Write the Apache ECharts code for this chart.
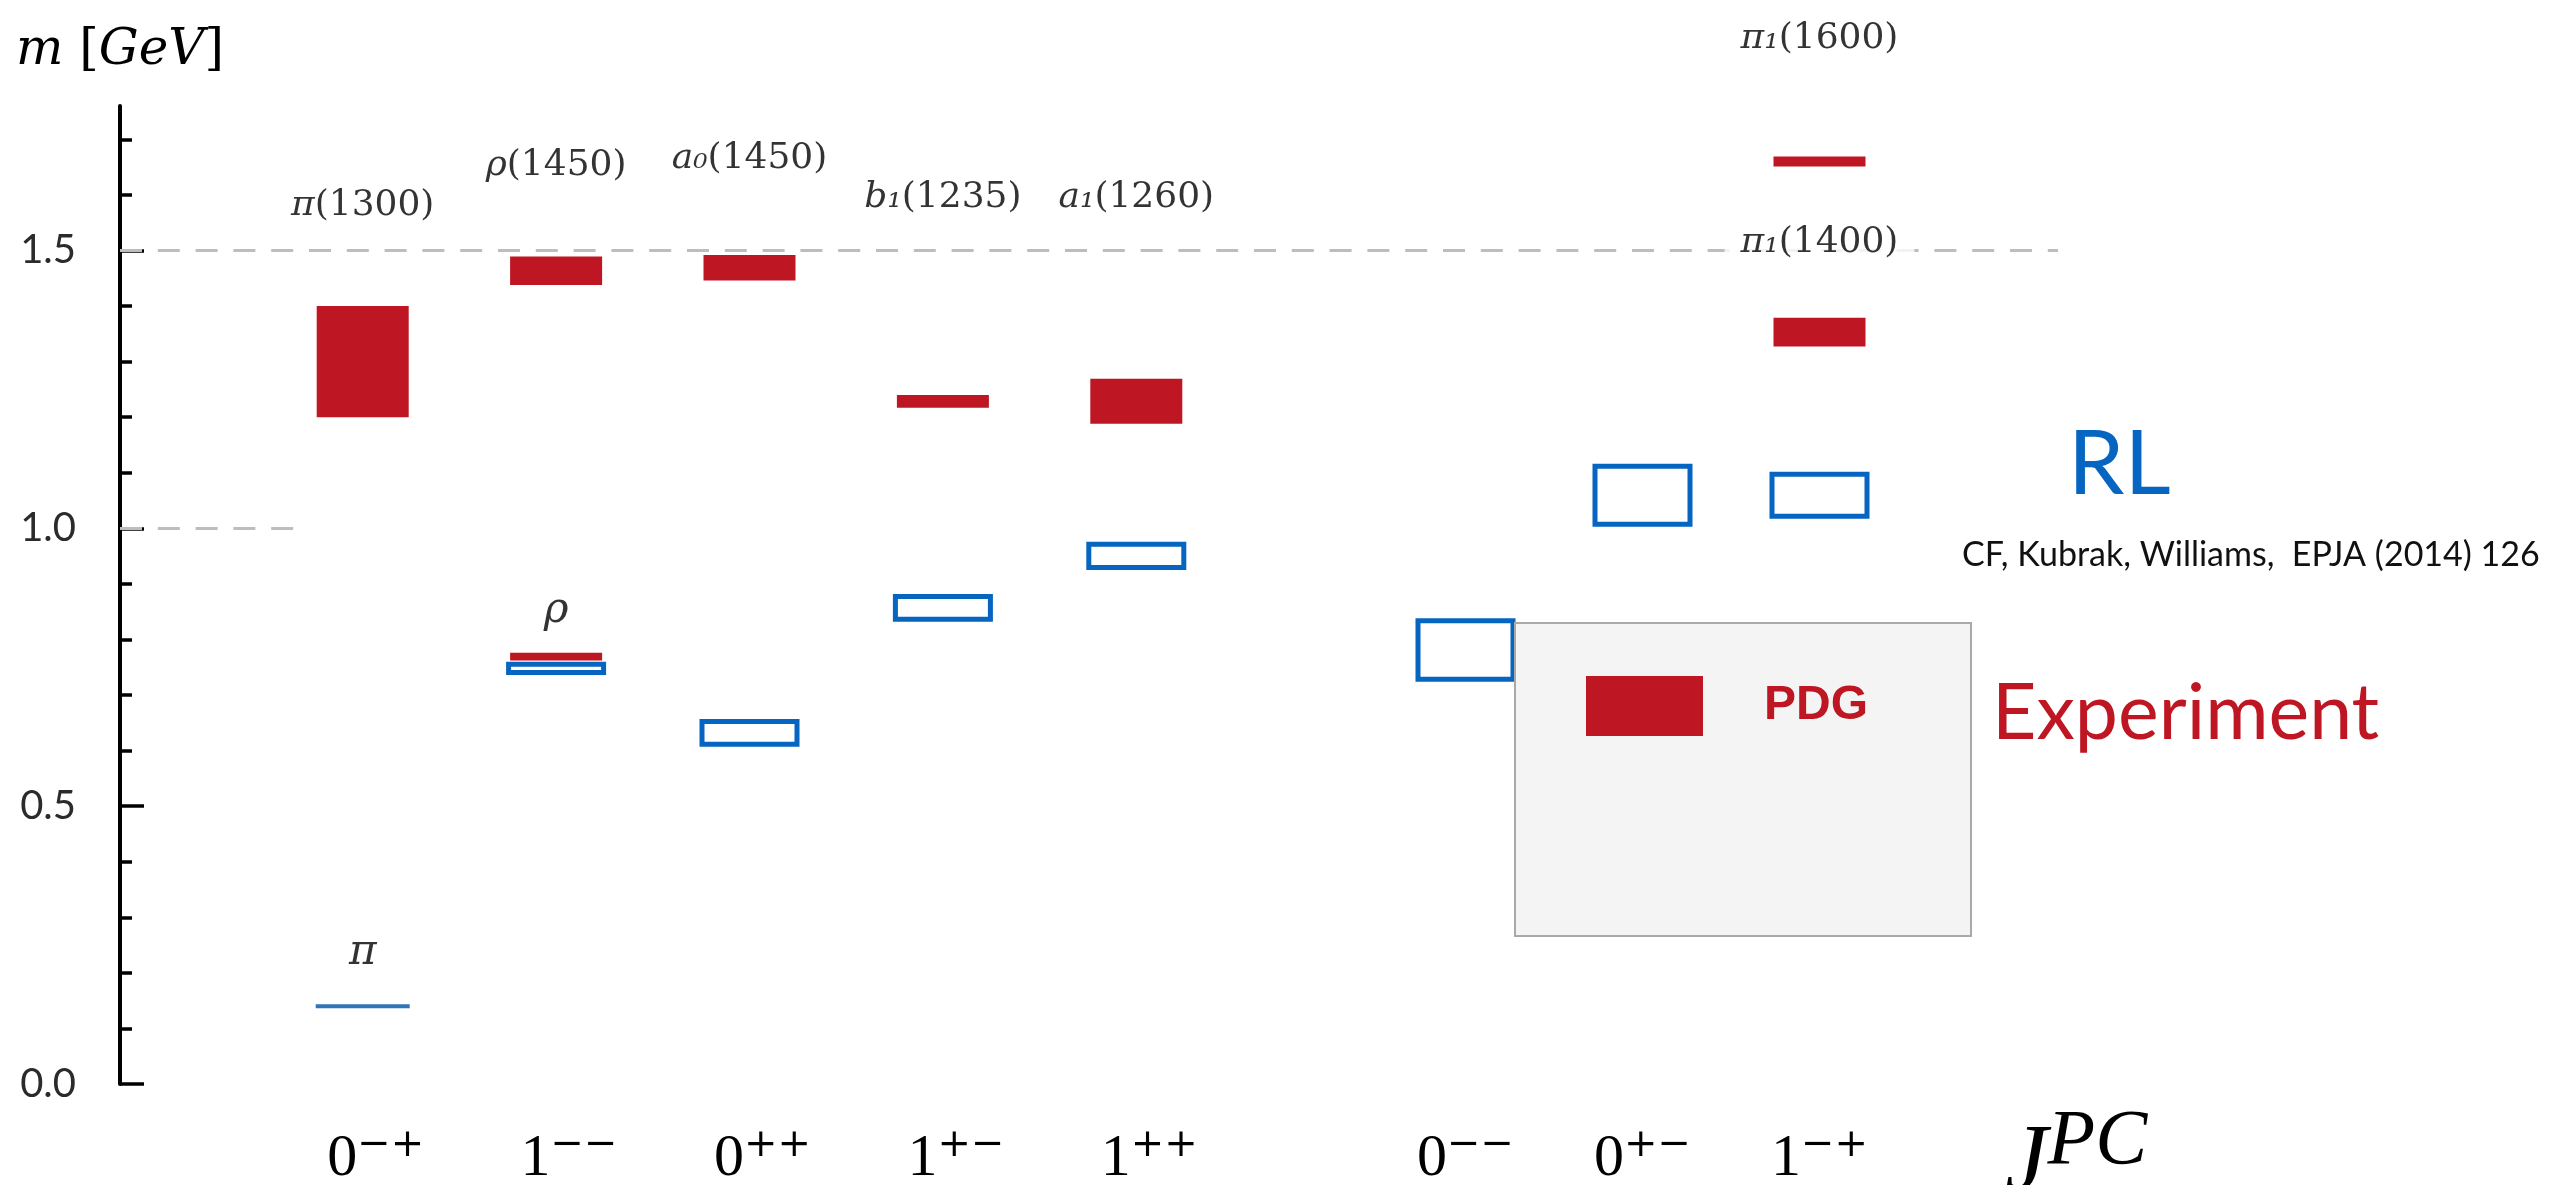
<!DOCTYPE html>
<html>
<head>
<meta charset="utf-8">
<title>Light meson spectrum: RL vs PDG</title>
<script src="https://cdn.jsdelivr.net/npm/echarts@6/dist/echarts.min.js"></script>
<style>
  html, body { margin: 0; padding: 0; background: #fff; }
  #chart { width: 2550px; height: 1185px; }
</style>
</head>
<body>
<div id="chart"></div>
<script>
// J^PC channels: conventional ones on the left, the others on the right
var stdStates = ['0-+', '1--', '0++', '1+-', '1++'];
var exoStates = ['0--', '0+-', '1-+'];

// rainbow-ladder (RL) masses in GeV: [state, low, high]
var rlStd = [['0-+', 0.14, 0.14], ['1--', 0.736, 0.760], ['0++', 0.607, 0.657], ['1+-', 0.832, 0.882], ['1++', 0.925, 0.976]];
var rlExo = [['0--', 0.724, 0.838], ['0+-', 1.003, 1.116], ['1-+', 1.017, 1.102]];

// PDG masses in GeV: [state, low, high]
var pdgStd = [['0-+', 1.20, 1.40], ['1--', 0.762, 0.776], ['1--', 1.438, 1.489], ['0++', 1.446, 1.492], ['1+-', 1.217, 1.240], ['1++', 1.188, 1.269]];
var pdgExo = [['1-+', 1.327, 1.379], ['1-+', 1.651, 1.669]];

// state names: [state, level of the name in GeV, particle, PDG mass]
var namesStd = [['0-+', 1.564, 'π', '1300'], ['1--', 1.636, 'ρ', '1450'], ['0++', 1.649, 'a₀', '1450'],
                ['1+-', 1.579, 'b₁', '1235'], ['1++', 1.579, 'a₁', '1260'],
                ['0-+', 0.214, 'π', ''], ['1--', 0.830, 'ρ', '']];
var namesExo = [['1-+', 1.865, 'π₁', '1600'], ['1-+', 1.498, 'π₁', '1400']];

var majorTicks = [0, 0.5, 1.0, 1.5];
var minorTicks = [0.1, 0.2, 0.3, 0.4, 0.6, 0.7, 0.8, 0.9, 1.1, 1.2, 1.3, 1.4, 1.6, 1.7];

var RED = '#be1622', BLUE = '#0565c1', PI_BLUE = '#2f75b7';
var MMAX = 1.76;

function rlBox(params, api) {
    var x = api.coord([api.value(0), 0])[0];
    var yLo = api.coord([api.value(0), api.value(1)])[1];
    var yHi = api.coord([api.value(0), api.value(2)])[1];
    if (yLo - yHi < 1) {
        // sharp level (the pion): just a line
        return { type: 'line', shape: { x1: x - 47, y1: yLo, x2: x + 47, y2: yLo },
                 style: { stroke: PI_BLUE, lineWidth: 4 } };
    }
    var w = 100, lw = 5;
    return { type: 'rect', shape: { x: x - w / 2 + lw / 2, y: yHi + lw / 2, width: w - lw, height: yLo - yHi - lw },
             style: { fill: 'none', stroke: BLUE, lineWidth: lw } };
}

function pdgBox(params, api) {
    var x = api.coord([api.value(0), 0])[0];
    var yLo = api.coord([api.value(0), api.value(1)])[1];
    var yHi = api.coord([api.value(0), api.value(2)])[1];
    return { type: 'rect', shape: { x: x - 46, y: yHi, width: 92, height: yLo - yHi },
             style: { fill: RED } };
}

function jpc(s) {
    return '{j|' + s.charAt(0) + '}{pc|' + s.slice(1).replace(/-/g, '\u2212') + '}';
}

var jpcRich = {
    j: { fontFamily: 'Liberation Serif', fontSize: 60, color: '#000', lineHeight: 63, verticalAlign: 'bottom' },
    pc: { fontFamily: 'DejaVu Serif', fontSize: 40, color: '#000', lineHeight: 40, verticalAlign: 'top' }
};

function nameItems(list) {
    return list.map(function (d) {
        return { value: [d[0], d[1]], particle: d[2], pdg: d[3] };
    });
}

var nameLabel = {
    show: true, position: 'top', distance: 0, offset: [0, 9],
    backgroundColor: '#fff', padding: [0, 16],
    formatter: function (p) {
        if (!p.data.pdg) return '{big|' + p.data.particle + '}';
        return '{g|' + p.data.particle + '}{n|(' + p.data.pdg + ')}';
    },
    rich: {
        g: { fontFamily: 'DejaVu Serif', fontStyle: 'italic', fontSize: 36, color: '#000' },
        n: { fontFamily: 'DejaVu Serif', fontSize: 36, color: '#000' },
        big: { fontFamily: 'DejaVu Serif', fontStyle: 'italic', fontSize: 42, color: '#000' }
    }
};

var myChart = echarts.init(document.getElementById('chart'));

var option = {
    animation: false,
    backgroundColor: '#fff',
    grid: [
        { left: 120, right: 492, top: 106, bottom: 101, outerBoundsMode: 'none' },
        { left: 266, width: 967, top: 106, bottom: 101, outerBoundsMode: 'none' },
        { left: 1377, width: 531, top: 106, bottom: 101, outerBoundsMode: 'none' }
    ],
    legend: {
        data: ['PDG'], left: 1515, top: 623, selectedMode: false,
        icon: 'rect', itemWidth: 117, itemHeight: 60,
        padding: [53, 103, 200, 71],
        backgroundColor: '#f4f4f4', borderColor: '#a9a9a9', borderWidth: 2,
        textStyle: { fontFamily: 'Liberation Sans', fontWeight: 'bold', fontSize: 48, color: RED, padding: [0, 0, 0, 56] }
    },
    xAxis: [
        { gridIndex: 0, type: 'value', min: 0, max: 1, show: false },
        { gridIndex: 1, type: 'category', data: stdStates,
          axisLine: { show: false }, axisTick: { show: false },
          axisLabel: { margin: 42, padding: [0, 0, 0, 26], formatter: jpc, rich: jpcRich } },
        { gridIndex: 2, type: 'category', data: exoStates,
          axisLine: { show: false }, axisTick: { show: false },
          axisLabel: { margin: 42, formatter: jpc, rich: jpcRich },
          name: '{J|J}{PC|PC}', nameLocation: 'end', nameGap: 97,
          nameTextStyle: { verticalAlign: 'top', padding: [19, 0, 0, 0],
            rich: {
              J: { fontFamily: 'Liberation Serif', fontStyle: 'italic', fontSize: 96, color: '#000', lineHeight: 110, verticalAlign: 'bottom' },
              PC: { fontFamily: 'Liberation Serif', fontStyle: 'italic', fontSize: 78, color: '#000', lineHeight: 78, verticalAlign: 'top' }
            } } }
    ],
    yAxis: [
        { gridIndex: 0, type: 'value', min: 0, max: MMAX, position: 'left',
          axisLine: { show: true, lineStyle: { color: '#000', width: 4 } },
          axisTick: { show: true, inside: true, length: 24, customValues: majorTicks, lineStyle: { color: '#000', width: 3.5 } },
          axisLabel: { customValues: majorTicks, margin: 44, fontFamily: 'Lato', fontSize: 40, color: '#2b2b2b',
                       formatter: function (v) { return v.toFixed(1); } },
          splitLine: { show: false },
          name: '{i|m}{b| [}{i|GeV}{b|]}', nameLocation: 'end', nameGap: 30,
          nameTextStyle: { align: 'center',
            rich: {
              i: { fontFamily: 'DejaVu Serif', fontStyle: 'italic', fontSize: 50, color: '#000' },
              b: { fontFamily: 'DejaVu Serif', fontSize: 50, color: '#000' }
            } } },
        { gridIndex: 0, type: 'value', min: 0, max: MMAX, position: 'left',
          axisLine: { show: false },
          axisTick: { show: true, inside: true, length: 12, customValues: minorTicks, lineStyle: { color: '#000', width: 3.5 } },
          axisLabel: { show: false }, splitLine: { show: false } },
        { gridIndex: 1, type: 'value', min: 0, max: MMAX, show: false },
        { gridIndex: 2, type: 'value', min: 0, max: MMAX, show: false }
    ],
    graphic: [
        { type: 'text', left: 2068, top: 420, style: { text: 'RL', fill: BLUE, font: '90px Lato' } },
        { type: 'text', left: 1962, top: 538, style: { text: 'CF, Kubrak, Williams,  EPJA (2014) 126', fill: '#111', font: '34px Lato' } },
        { type: 'text', left: 1992, top: 676, style: { text: 'Experiment', fill: RED, font: '77px Lato' } }
    ],
    series: [
        { type: 'line', xAxisIndex: 0, yAxisIndex: 0, data: [], silent: true,
          markLine: { silent: true, symbol: 'none', label: { show: false },
                      lineStyle: { color: '#bdbdbd', width: 3, type: [22, 15.8] },
                      data: [{ yAxis: 1.5 }, [{ coord: [0, 1.0] }, { coord: [0.09, 1.0] }]] } },
        { name: 'RL', type: 'custom', xAxisIndex: 1, yAxisIndex: 2, data: rlStd, encode: { x: 0, y: [1, 2] }, renderItem: rlBox },
        { name: 'RL', type: 'custom', xAxisIndex: 2, yAxisIndex: 3, data: rlExo, encode: { x: 0, y: [1, 2] }, renderItem: rlBox },
        { name: 'PDG', type: 'custom', xAxisIndex: 1, yAxisIndex: 2, data: pdgStd, encode: { x: 0, y: [1, 2] }, renderItem: pdgBox, itemStyle: { color: RED } },
        { name: 'PDG', type: 'custom', xAxisIndex: 2, yAxisIndex: 3, data: pdgExo, encode: { x: 0, y: [1, 2] }, renderItem: pdgBox, itemStyle: { color: RED } },
        { type: 'scatter', xAxisIndex: 1, yAxisIndex: 2, symbolSize: 0, z: 10, clip: false, silent: true,
          data: nameItems(namesStd), label: nameLabel },
        { type: 'scatter', xAxisIndex: 2, yAxisIndex: 3, symbolSize: 0, z: 10, clip: false, silent: true,
          data: nameItems(namesExo), label: nameLabel }
    ]
};

myChart.setOption(option);
</script>
</body>
</html>
